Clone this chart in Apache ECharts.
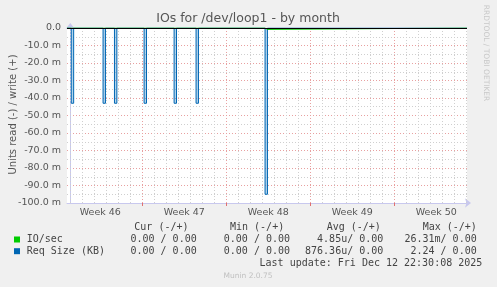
<!DOCTYPE html>
<html><head><meta charset="utf-8">
<script src="https://cdn.jsdelivr.net/npm/echarts@6/dist/echarts.min.js"></script>
<style>html,body{margin:0;padding:0;background:#f0f0f0}#c{width:497px;height:287px}</style>
</head><body><div id="c"></div><script>
// ---- data (x in days, y in milli-units) ----
const weekLabels = ['Week 46', 'Week 47', 'Week 48', 'Week 49', 'Week 50'];
const weekCenters = [2.5, 9.5, 16.5, 23.5, 30.5];
const weekBounds = [6, 13, 20, 27];
const dayLines = [0,1,2,3,4,5,6,7,8,9,10,11,12,13,14,15,16,17,18,19,20,21,22,23,24,25,26,27,28,29,30,31,32,33];
const reqSpikeDays = [0.18, 2.83, 3.78, 6.25, 8.75, 10.58, 16.33];
const reqSpikeVals = [-43, -43, -43, -43, -43, -43, -95];
const ioSpikeDays = [16.33];
const ioSpikeVals = [-0.8];
const yTicks = [0, -10, -20, -30, -40, -50, -60, -70, -80, -90, -100];
const legendHeader = ['Cur (-/+)', 'Min (-/+)', 'Avg (-/+)', 'Max (-/+)'];
const ioStats = ['0.00 / 0.00', '0.00 / 0.00', '4.85u/ 0.00', '26.31m/ 0.00'];
const reqStats = ['0.00 / 0.00', '0.00 / 0.00', '876.36u/ 0.00', '2.24 / 0.00'];
const lastUpdate = 'Last update: Fri Dec 12 22:30:08 2025';

const X_MIN = -0.275, X_MAX = 33.058, HW = 0.1;
function spikeData(days, vals) {
  const out = [[X_MIN, 0]];
  days.forEach((d, i) => { out.push([d - HW, 0], [d - HW, vals[i]], [d + HW, vals[i]], [d + HW, 0]); });
  out.push([X_MAX, 0]);
  return out;
}
const GRAY = '#cfcfcf', RED = '#e8a0a0', AX = '#c8c8ee';
const mono = 'DejaVu Sans Mono', sans = 'DejaVu Sans', TXT = '#444';

const chart = echarts.init(document.getElementById('c'), null, {renderer: 'canvas'});
const graphics = [];
const colStartsHdr = [134.3, 230, 326.7, 422.7];
const colEnds = [196.7, 290, 383.3, 476.7];
legendHeader.forEach((t, i) => graphics.push({type: 'text', left: colStartsHdr[i], top: 222, style: {text: t, font: '10px ' + mono, fill: TXT}}));
ioStats.forEach((t, i) => graphics.push({type: 'text', x: colEnds[i], y: 239.5, style: {text: t, font: '10px ' + mono, fill: TXT, align: 'right', verticalAlign: 'middle'}}));
reqStats.forEach((t, i) => graphics.push({type: 'text', x: colEnds[i], y: 251.2, style: {text: t, font: '10px ' + mono, fill: TXT, align: 'right', verticalAlign: 'middle'}}));
graphics.push(
  {type: 'rect', shape: {x: 14, y: 236.5, width: 6, height: 6}, style: {fill: '#00cc00'}},
  {type: 'rect', shape: {x: 14, y: 248.2, width: 6, height: 6}, style: {fill: '#0066b3'}},
  {type: 'text', x: 26.7, y: 239.5, style: {text: 'IO/sec', font: '10px ' + mono, fill: TXT, verticalAlign: 'middle'}},
  {type: 'text', x: 26.7, y: 251.2, style: {text: 'Req Size (KB)', font: '10px ' + mono, fill: TXT, verticalAlign: 'middle'}},
  {type: 'text', x: 482.3, y: 263.8, style: {text: lastUpdate, font: '10px ' + mono, fill: TXT, align: 'right', verticalAlign: 'middle'}},
  {type: 'text', x: 248, y: 276, style: {text: 'Munin 2.0.75', font: '7.5px ' + sans, fill: '#c0c0c0', align: 'center', verticalAlign: 'middle'}},
  {type: 'text', x: 248, y: 19, style: {text: 'IOs for /dev/loop1 - by month', font: '12.5px ' + sans, fill: '#555', align: 'center', verticalAlign: 'middle'}},
  {type: 'text', x: 13, y: 114.5, rotation: Math.PI / 2, style: {text: 'Units read (-) / write (+)', font: '10px ' + sans, fill: '#555', align: 'center', verticalAlign: 'middle'}},
  {type: 'text', x: 486, y: 53, rotation: -Math.PI / 2, style: {text: 'RRDTOOL / TOBI OETIKER', font: '7.5px ' + sans, fill: '#c8c8c8', align: 'center', verticalAlign: 'middle'}}
);

chart.setOption({
  animation: false,
  backgroundColor: '#f0f0f0',
  grid: {left: 67, right: 30, top: 28, bottom: 84, show: true, backgroundColor: '#ffffff', borderWidth: 0},
  xAxis: {
    type: 'value', min: X_MIN, max: X_MAX,
    axisLine: {show: true, onZero: false, lineStyle: {color: AX}, symbol: ['none', 'arrow'], symbolSize: [7, 6], symbolOffset: [0, 4]},
    axisTick: {show: true, customValues: weekBounds, length: 3, lineStyle: {color: '#e07070'}},
    axisLabel: {customValues: weekCenters, formatter: v => weekLabels[weekCenters.indexOf(v)] || '', color: '#555', fontFamily: sans, fontSize: 9.5, margin: 5},
    splitLine: {show: false}
  },
  yAxis: {
    type: 'value', min: -100, max: 0, interval: 10,
    axisLine: {show: true, lineStyle: {color: AX}, symbol: ['none', 'arrow'], symbolSize: [7, 6], symbolOffset: [0, 5]},
    axisTick: {show: false},
    axisLabel: {formatter: v => yTicks.indexOf(v) >= 0 ? (v === 0 ? '0.0' : v.toFixed(1) + ' m') : '', color: '#555', fontFamily: sans, fontSize: 9.5, margin: 6},
    splitLine: {show: true, lineStyle: {color: RED, type: [1, 2]}},
    minorTick: {show: false, splitNumber: 2},
    minorSplitLine: {show: true, lineStyle: {color: GRAY, type: [1, 2]}}
  },
  graphic: graphics,
  series: [
    {type: 'line', data: [], z: 1, silent: true,
     markLine: {silent: true, symbol: 'none', label: {show: false}, animation: false,
       data: dayLines.map(d => ({xAxis: d, lineStyle: {color: weekBounds.indexOf(d) >= 0 ? RED : GRAY, type: [1, 2], width: 1}}))}},
    {type: 'line', data: spikeData(reqSpikeDays, reqSpikeVals), z: 3, symbol: 'none', silent: true,
     lineStyle: {color: '#0066b3', width: 1}, areaStyle: {color: 'rgba(70,150,210,0.6)'}},
    {type: 'line', data: spikeData(ioSpikeDays, ioSpikeVals), z: 4, symbol: 'none', silent: true,
     lineStyle: {color: '#00cc00', width: 1}},
    {type: 'line', data: [], z: 5, silent: true,
     markLine: {silent: true, symbol: 'none', label: {show: false}, animation: false,
       data: [{yAxis: 0, lineStyle: {color: '#000', type: 'solid', width: 1}}]}}
  ]
});
</script></body></html>
